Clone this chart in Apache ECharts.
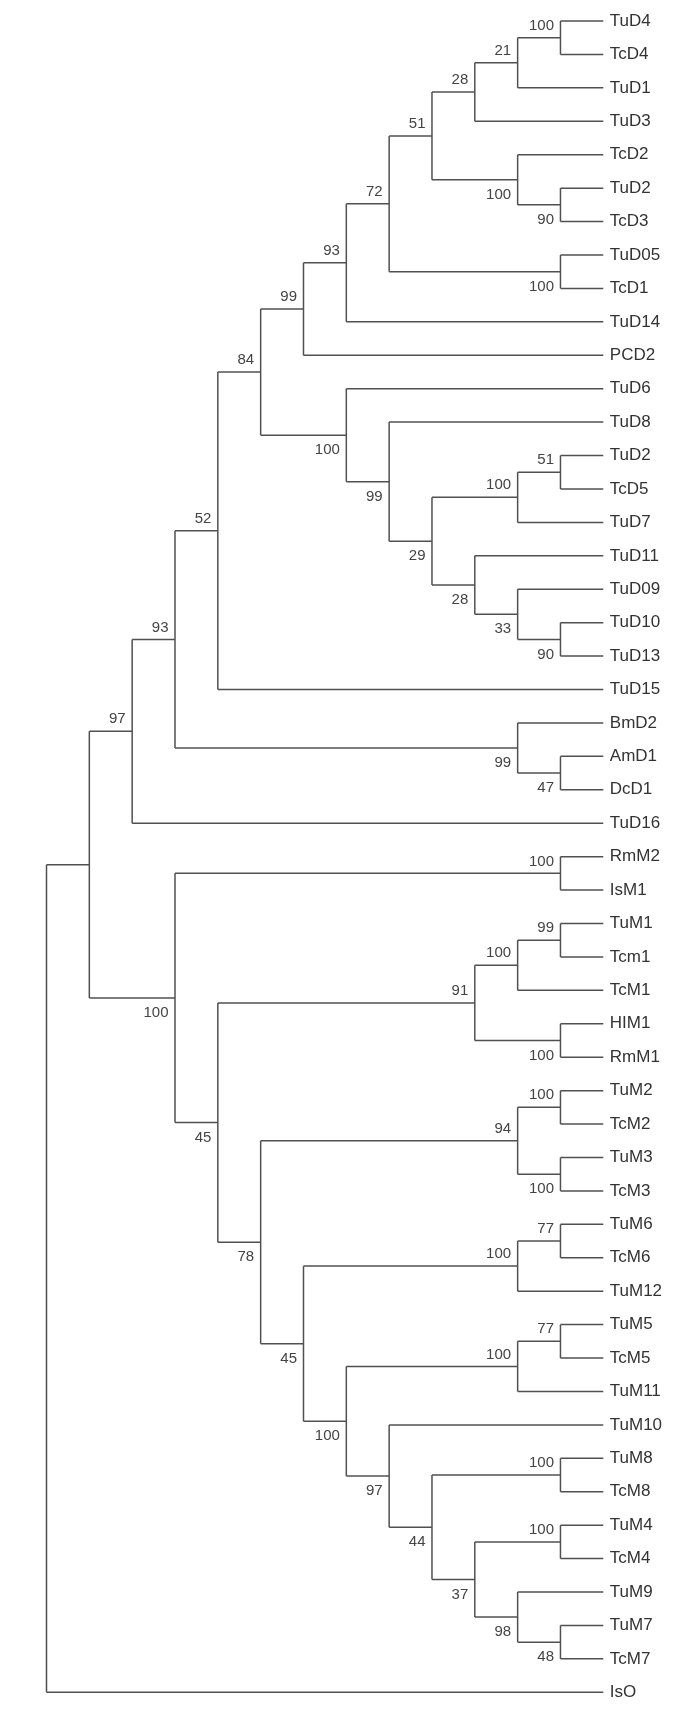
<!DOCTYPE html>
<html>
<head>
    <meta charset='utf-8'>
    <script src="https://cdn.jsdelivr.net/npm/echarts@6/dist/echarts.min.js"></script>
</head>
<body>
<style>
    html, body, #main {
        width: 100%;
        height: 100%;
        margin: 0;
        padding: 0;
        background: #fff;
    }
</style>
<div id="main"></div>
<script>
    // leaves, top to bottom
    var leaves = [
        'TuD4', 'TcD4', 'TuD1', 'TuD3', 'TcD2', 'TuD2', 'TcD3', 'TuD05', 'TcD1', 'TuD14',
        'PCD2', 'TuD6', 'TuD8', 'TuD2', 'TcD5', 'TuD7', 'TuD11', 'TuD09', 'TuD10', 'TuD13',
        'TuD15', 'BmD2', 'AmD1', 'DcD1', 'TuD16', 'RmM2', 'IsM1', 'TuM1', 'Tcm1', 'TcM1',
        'HIM1', 'RmM1', 'TuM2', 'TcM2', 'TuM3', 'TcM3', 'TuM6', 'TcM6', 'TuM12', 'TuM5',
        'TcM5', 'TuM11', 'TuM10', 'TuM8', 'TcM8', 'TuM4', 'TcM4', 'TuM9', 'TuM7', 'TcM7',
        'IsO'
    ];
    var leafLevel = 13;

    // internal nodes: level (root = 0), bootstrap value, children (number = leaf index)
    var clades = [
        {id: 'root', level: 0, support: null, kids: ['n1', 50]},
        {id: 'n1', level: 1, support: null, kids: ['n2', 'n26']},
        {id: 'n2', level: 2, support: 97, kids: ['n3', 24]},
        {id: 'n3', level: 3, support: 93, kids: ['n4', 'n5']},
        {id: 'n4', level: 4, support: 52, kids: ['n7', 20]},
        {id: 'n5', level: 11, support: 99, kids: [21, 'n6']},
        {id: 'n6', level: 12, support: 47, kids: [22, 23]},
        {id: 'n7', level: 5, support: 84, kids: ['n8', 'n9']},
        {id: 'n8', level: 6, support: 99, kids: ['n10', 10]},
        {id: 'n10', level: 7, support: 93, kids: ['n11', 9]},
        {id: 'n11', level: 8, support: 72, kids: ['n12', 'n13']},
        {id: 'n12', level: 9, support: 51, kids: ['n14', 'n15']},
        {id: 'n13', level: 12, support: 100, kids: [7, 8]},
        {id: 'n14', level: 10, support: 28, kids: ['n16', 3]},
        {id: 'n15', level: 11, support: 100, kids: [4, 'n18']},
        {id: 'n16', level: 11, support: 21, kids: ['n17', 2]},
        {id: 'n17', level: 12, support: 100, kids: [0, 1]},
        {id: 'n18', level: 12, support: 90, kids: [5, 6]},
        {id: 'n9', level: 7, support: 100, kids: [11, 'n19']},
        {id: 'n19', level: 8, support: 99, kids: [12, 'n20']},
        {id: 'n20', level: 9, support: 29, kids: ['n21', 'n22']},
        {id: 'n21', level: 11, support: 100, kids: ['n23', 15]},
        {id: 'n23', level: 12, support: 51, kids: [13, 14]},
        {id: 'n22', level: 10, support: 28, kids: [16, 'n24']},
        {id: 'n24', level: 11, support: 33, kids: [17, 'n25']},
        {id: 'n25', level: 12, support: 90, kids: [18, 19]},
        {id: 'n26', level: 3, support: 100, kids: ['n27', 'n28']},
        {id: 'n27', level: 12, support: 100, kids: [25, 26]},
        {id: 'n28', level: 4, support: 45, kids: ['n29', 'n30']},
        {id: 'n29', level: 10, support: 91, kids: ['n31', 'n32']},
        {id: 'n31', level: 11, support: 100, kids: ['n33', 29]},
        {id: 'n33', level: 12, support: 99, kids: [27, 28]},
        {id: 'n32', level: 12, support: 100, kids: [30, 31]},
        {id: 'n30', level: 5, support: 78, kids: ['n34', 'n35']},
        {id: 'n34', level: 11, support: 94, kids: ['n36', 'n37']},
        {id: 'n36', level: 12, support: 100, kids: [32, 33]},
        {id: 'n37', level: 12, support: 100, kids: [34, 35]},
        {id: 'n35', level: 6, support: 45, kids: ['n38', 'n39']},
        {id: 'n38', level: 11, support: 100, kids: ['n40', 38]},
        {id: 'n40', level: 12, support: 77, kids: [36, 37]},
        {id: 'n39', level: 7, support: 100, kids: ['n41', 'n42']},
        {id: 'n41', level: 11, support: 100, kids: ['n43', 41]},
        {id: 'n43', level: 12, support: 77, kids: [39, 40]},
        {id: 'n42', level: 8, support: 97, kids: [42, 'n44']},
        {id: 'n44', level: 9, support: 44, kids: ['n45', 'n46']},
        {id: 'n45', level: 12, support: 100, kids: [43, 44]},
        {id: 'n46', level: 10, support: 37, kids: ['n47', 'n48']},
        {id: 'n47', level: 12, support: 100, kids: [45, 46]},
        {id: 'n48', level: 11, support: 98, kids: [47, 'n49']},
        {id: 'n49', level: 12, support: 48, kids: [48, 49]}
    ];

    var byId = {};
    clades.forEach(function (c) { byId[c.id] = c; });

    // node y = midpoint of first and last child
    function place(k) {
        if (typeof k === 'number') return {x: leafLevel, y: k};
        var c = byId[k];
        if (!c.pos) {
            var first = place(c.kids[0]);
            var last = place(c.kids[c.kids.length - 1]);
            c.pos = {x: c.level, y: (first.y + last.y) / 2};
        }
        return c.pos;
    }

    var segments = [];
    var supportPts = [], supportText = [], supportBelow = [];
    clades.forEach(function (c) {
        var p = place(c.id);
        var ys = c.kids.map(function (k) { return place(k).y; });
        segments.push([p.x, ys[0], p.x, ys[ys.length - 1]]);
        c.kids.forEach(function (k, i) {
            var q = place(k);
            segments.push([p.x, q.y, q.x, q.y]);
            if (typeof k !== 'number' && byId[k].support != null) {
                supportPts.push([q.x, q.y]);
                supportText.push(String(byId[k].support));
                supportBelow.push(i > 0);
            }
        });
    });

    var leafPts = leaves.map(function (name, i) { return [leafLevel, i]; });

    var chart = echarts.init(document.getElementById('main'));
    var lineColor = '#505050';
    var font = '"Liberation Sans", Arial, sans-serif';

    chart.setOption({
        animation: false,
        backgroundColor: '#fff',
        grid: {left: 46.5, top: 21, width: 556.8, height: 1671.3},
        xAxis: {type: 'value', min: 0, max: leafLevel, show: false},
        yAxis: {type: 'value', min: 0, max: leaves.length - 1, inverse: true, show: false},
        series: [{
            type: 'custom',
            data: segments,
            encode: {x: [0, 2], y: [1, 3]},
            renderItem: function (params, api) {
                var a = api.coord([api.value(0), api.value(1)]);
                var b = api.coord([api.value(2), api.value(3)]);
                return {
                    type: 'line',
                    shape: {x1: a[0], y1: a[1], x2: b[0], y2: b[1]},
                    style: {stroke: lineColor, lineWidth: 1.5}
                };
            }
        }, {
            type: 'custom',
            data: supportPts,
            encode: {x: 0, y: 1},
            renderItem: function (params, api) {
                var p = api.coord([api.value(0), api.value(1)]);
                var below = supportBelow[params.dataIndex];
                return {
                    type: 'text',
                    x: p[0] - 6.5,
                    y: p[1] + (below ? 15 : -12),
                    style: {
                        text: supportText[params.dataIndex],
                        align: 'right',
                        verticalAlign: 'middle',
                        fill: '#444',
                        font: '15px ' + font
                    }
                };
            }
        }, {
            type: 'custom',
            data: leafPts,
            encode: {x: 0, y: 1},
            renderItem: function (params, api) {
                var p = api.coord([api.value(0), api.value(1)]);
                return {
                    type: 'text',
                    x: p[0] + 6.5,
                    y: p[1],
                    style: {
                        text: leaves[params.dataIndex],
                        align: 'left',
                        verticalAlign: 'middle',
                        fill: '#333',
                        font: '17px ' + font
                    }
                };
            }
        }]
    });
</script>
</body>
</html>
